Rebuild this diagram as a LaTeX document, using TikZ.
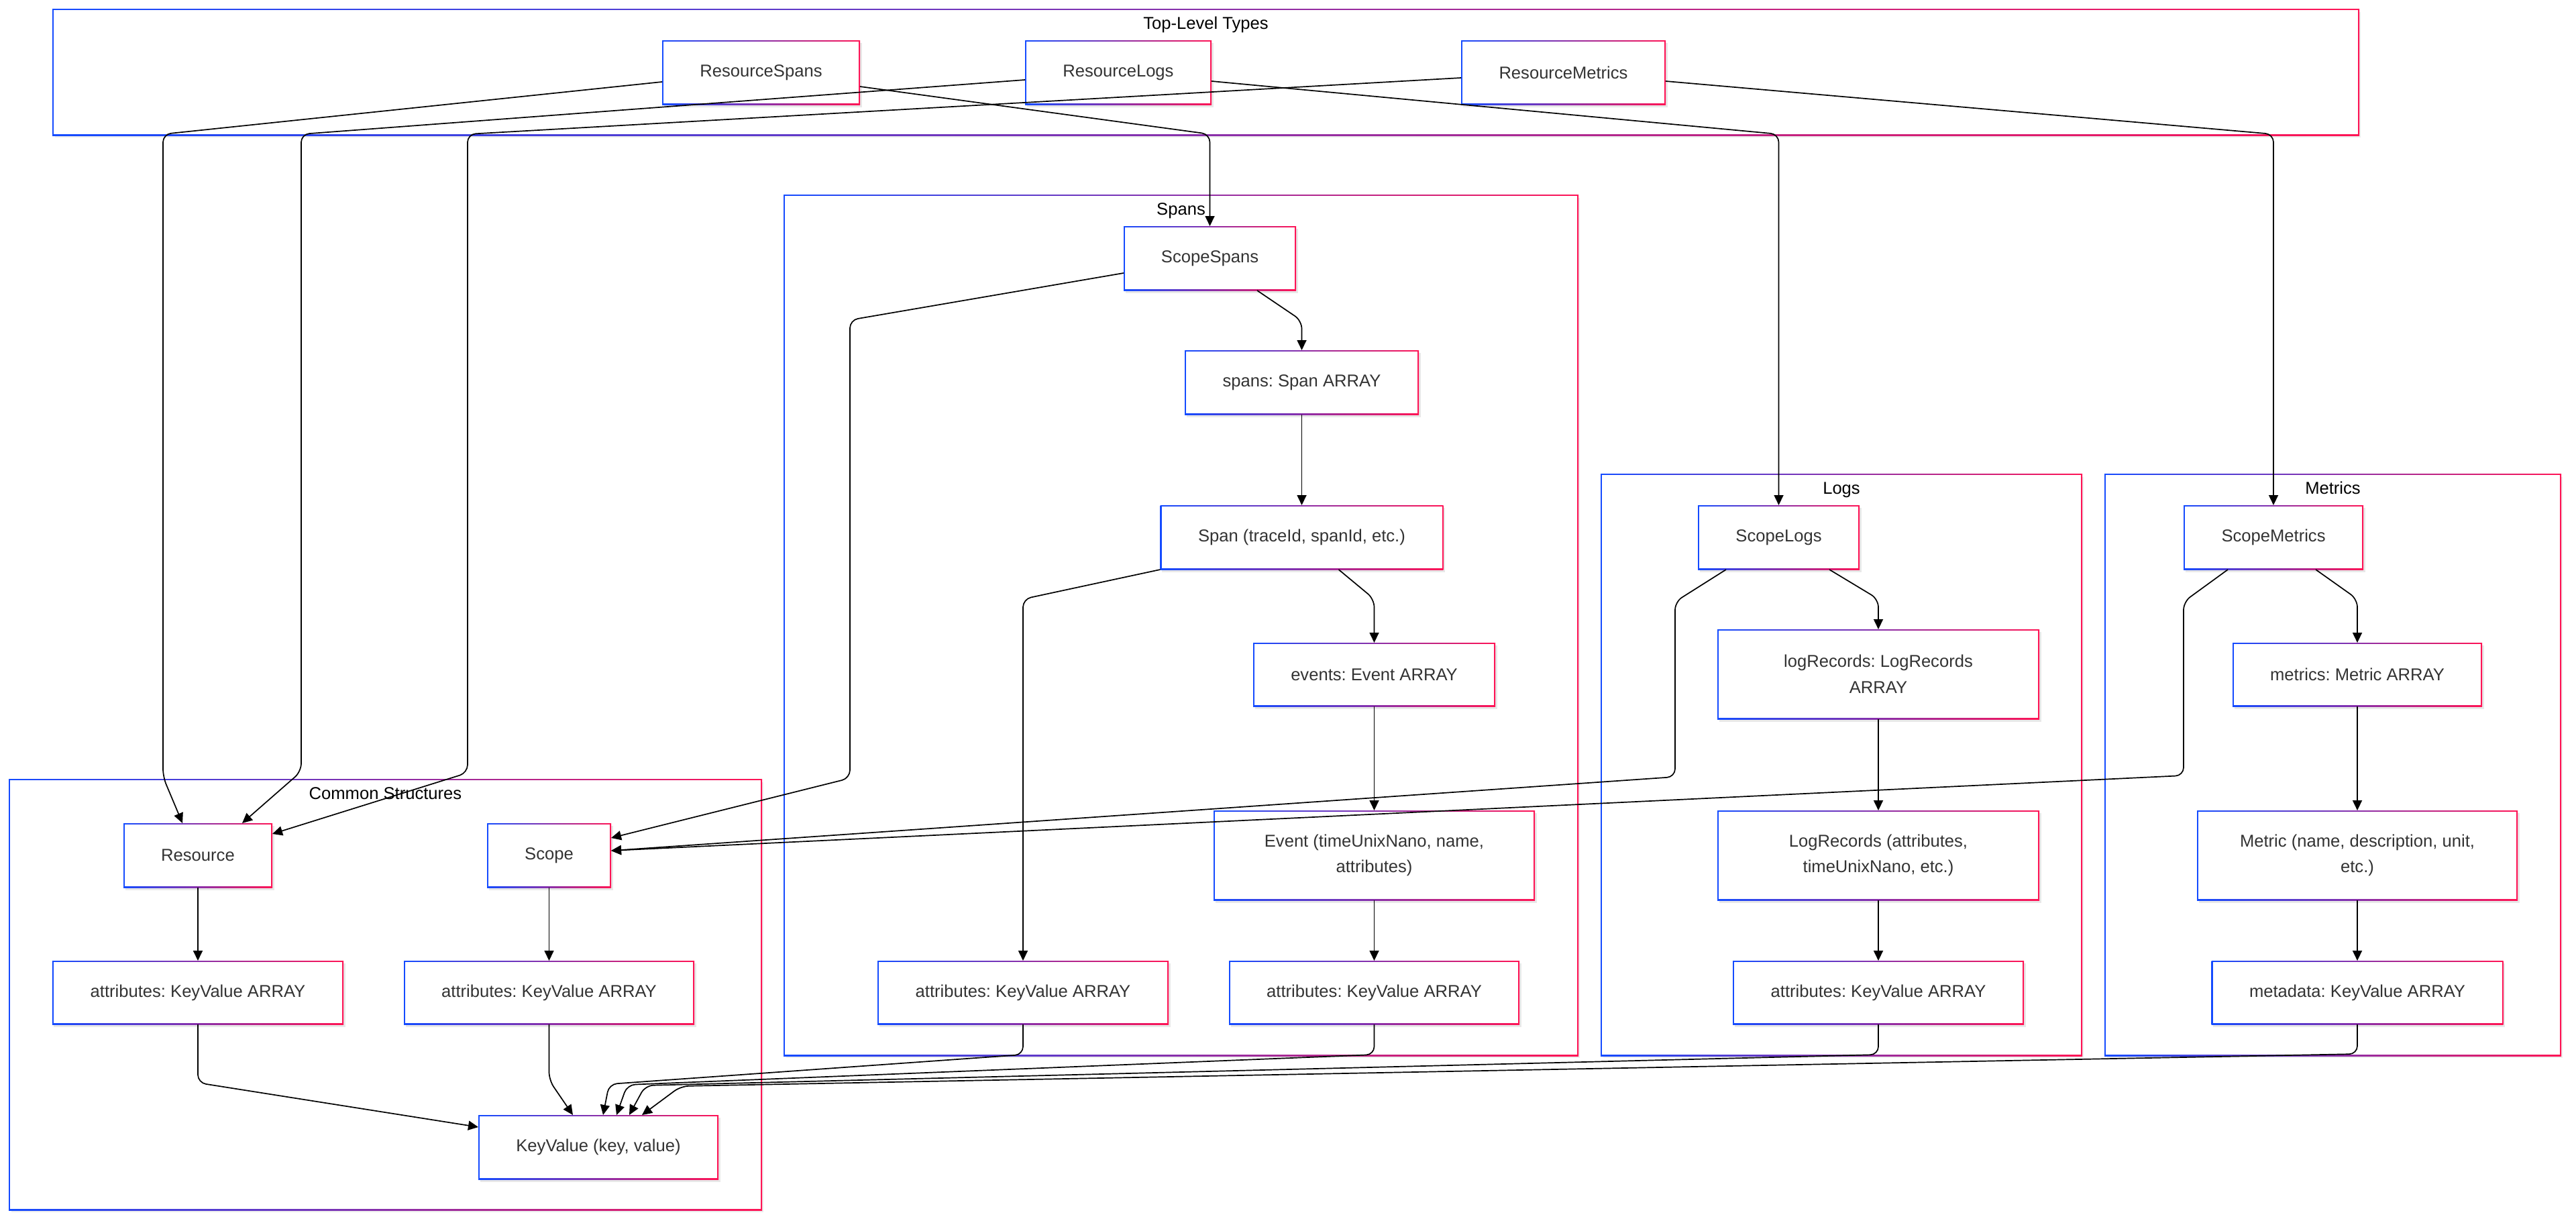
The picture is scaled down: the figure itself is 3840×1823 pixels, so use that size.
\documentclass[tikz,border=0pt]{standalone}
\usepackage{fontspec}
\newfontfamily\boxfont{Liberation Sans}
\usetikzlibrary{arrows.meta,shadows}
\definecolor{gblue}{RGB}{20,75,255}
\definecolor{gred}{RGB}{255,20,85}
\definecolor{txtgray}{RGB}{51,51,51}
\frenchspacing
\newcommand{\gclust}[4]{%
  \fill[black,opacity=0.07] (#1+3,#2+4) rectangle (#3+3,#4+4);
  \shade[left color=gblue,right color=gred] (#1-1,#2-1) rectangle (#3+1,#4+1);
  \fill[white] (#1+1,#2+1) rectangle (#3-1,#4-1);
}
\tikzset{
  tbox/.style={rectangle, inner sep=0pt, outer sep=0pt, align=center,
    font={\boxfont\frenchspacing\fontsize{25.6bp}{38.6bp}\selectfont}, text=txtgray, fill=white,
    general shadow={fill=black, opacity=0.09, shadow xshift=2.5bp, shadow yshift=-3.5bp},
    path picture={
      \shade[left color=gblue,right color=gred] (path picture bounding box.south west) rectangle (path picture bounding box.north east);
      \fill[white] ([shift={(2bp,2bp)}]path picture bounding box.south west) rectangle ([shift={(-2bp,-2bp)}]path picture bounding box.north east);
    }},
  clabel/.style={anchor=base, inner sep=0pt, font={\boxfont\fontsize{25.6bp}{30bp}\selectfont}, text=black},
  conn/.style={draw=black, line width=1.7bp, rounded corners=12bp, -{Triangle[length=15bp,width=14bp]}},
}
\begin{document}
\begin{tikzpicture}[x=1bp,y=-1bp]
\useasboundingbox (0,0) rectangle (3840,1823);
\fill[white] (0,0) rectangle (3840,1823);
% clusters
\gclust{79}{14}{3516}{201}
\gclust{1169}{291}{2352}{1573}
\gclust{2387}{707}{3103}{1573}
\gclust{3138}{707}{3817}{1573}
\gclust{14}{1162}{1135}{1803}
\node[clabel] (ltop) at (1797.5,43) {Top-Level Types};
\node[clabel] (lspans) at (1760.5,320) {Spans};
\node[clabel] (llogs) at (2745,736) {Logs};
\node[clabel] (lmetrics) at (3477.5,736) {Metrics};
\node[clabel] (lcommon) at (574.5,1191) {Common Structures};
% top-level
\node[tbox, minimum width=295bp, minimum height=96bp] (rs) at (1134.5,108) {ResourceSpans};
\node[tbox, minimum width=278bp, minimum height=96bp] (rl) at (1667,108) {ResourceLogs};
\node[tbox, minimum width=305bp, minimum height=96bp] (rm) at (2330.5,108) {ResourceMetrics};
% spans
\node[tbox, minimum width=257bp, minimum height=96bp] (ss) at (1803.5,385) {ScopeSpans};
\node[tbox, minimum width=349bp, minimum height=96bp] (spans) at (1940.5,570) {spans: Span ARRAY};
\node[tbox, minimum width=422bp, minimum height=96bp] (span) at (1940.5,801) {Span (traceId, spanId, etc.)};
\node[tbox, minimum width=361bp, minimum height=95bp] (events) at (2048.5,1005.5) {events: Event ARRAY};
\node[tbox, minimum width=479bp, minimum height=134bp] (event) at (2048.5,1275) {Event (timeUnixNano, name,\\attributes)};
\node[tbox, minimum width=434bp, minimum height=95bp] (attrsp) at (1525,1479.5) {attributes: KeyValue ARRAY};
\node[tbox, minimum width=433bp, minimum height=95bp] (attrev) at (2048.5,1479.5) {attributes: KeyValue ARRAY};
% logs
\node[tbox, minimum width=241bp, minimum height=96bp] (sl) at (2651.5,801) {ScopeLogs};
\node[tbox, minimum width=480bp, minimum height=134bp] (lr) at (2800,1005) {logRecords: LogRecords\\ARRAY};
\node[tbox, minimum width=480bp, minimum height=134bp] (lrec) at (2800,1275) {LogRecords (attributes,\\timeUnixNano, etc.)};
\node[tbox, minimum width=434bp, minimum height=95bp] (attrlg) at (2800,1479.5) {attributes: KeyValue ARRAY};
% metrics
\node[tbox, minimum width=268bp, minimum height=96bp] (sm) at (3389,801) {ScopeMetrics};
\node[tbox, minimum width=372bp, minimum height=95bp] (metrics) at (3514,1005.5) {metrics: Metric ARRAY};
\node[tbox, minimum width=478bp, minimum height=134bp] (metric) at (3514,1275) {Metric (name, description, unit,\\etc.)};
\node[tbox, minimum width=435bp, minimum height=95bp] (metadata) at (3514,1479.5) {metadata: KeyValue ARRAY};
% common
\node[tbox, minimum width=222bp, minimum height=96bp] (res) at (295,1275) {Resource};
\node[tbox, minimum width=185bp, minimum height=96bp] (scope) at (818.5,1275) {Scope};
\node[tbox, minimum width=434bp, minimum height=95bp] (attrr) at (295,1479.5) {attributes: KeyValue ARRAY};
\node[tbox, minimum width=433bp, minimum height=95bp] (attrs) at (818.5,1479.5) {attributes: KeyValue ARRAY};
\node[tbox, minimum width=358bp, minimum height=96bp] (kv) at (892,1710) {KeyValue (key, value)};
% connectors
\draw[conn] ([yshift=-14bp]rs.west) -- (243,200) -- (243,1158) -- ([xshift=-23bp]res.north);
\draw[conn] ([yshift=-11bp]rl.west) -- (449,200) -- (449,1150) -- ([xshift=66bp]res.north);
\draw[conn] ([yshift=-8bp]rm.west) -- (697,200) -- (697,1152) -- ([yshift=32bp]res.east);
\draw[conn] ([yshift=-21bp]rs.east) -- (1803.5,200) -- (ss.north);
\draw[conn] ([yshift=-13bp]rl.east) -- (2651.5,200) -- (sl.north);
\draw[conn] ([yshift=-13bp]rm.east) -- (3389,200) -- (sm.north);
\draw[conn] ([yshift=-22bp]ss.west) -- (1267,477) -- (1267,1160) -- ([yshift=26bp]scope.east);
\draw[conn] ([xshift=-78.5bp]sl.south) -- (2497,897) -- (2497,1158) -- ([yshift=7bp]scope.east);
\draw[conn] ([xshift=-68bp]sm.south) -- (3255,897) -- (3255,1156) -- ([yshift=7bp]scope.east);
\draw[conn] ([xshift=70.5bp]ss.south) -- (1940.5,478) -- (spans.north);
\draw[conn] (spans.south) -- (span.north);
\draw[conn] (span.south west) -- (1525,893) -- (attrsp.north);
\draw[conn] ([xshift=55bp]span.south) -- (2048.5,893) -- (events.north);
\draw[conn] (events.south) -- (event.north);
\draw[conn] (event.south) -- (attrev.north);
\draw[conn] ([xshift=75.5bp]sl.south) -- (2800,893) -- (lr.north);
\draw[conn] (lr.south) -- (lrec.north);
\draw[conn] (lrec.south) -- (attrlg.north);
\draw[conn] ([xshift=63bp]sm.south) -- (3514,893) -- (metrics.north);
\draw[conn] (metrics.south) -- (metric.north);
\draw[conn] (metric.south) -- (metadata.north);
\draw[conn] (res.south) -- (attrr.north);
\draw[conn] (scope.south) -- (attrs.north);
\draw[conn] (attrr.south) -- (295,1614) -- ([yshift=30bp]kv.west);
\draw[conn] (attrs.south) -- (818.5,1610) -- ([xshift=-38bp]kv.north);
\draw[conn] (attrsp.south) -- (1525,1572) -- (908,1616) -- ([xshift=7bp]kv.north);
\draw[conn] (attrev.south) -- (2048.5,1572) -- (935,1617) -- ([xshift=27bp]kv.north);
\draw[conn] (attrlg.south) -- (2800,1572) -- (962,1618) -- ([xshift=46bp]kv.north);
\draw[conn] (metadata.south) -- (3514,1571) -- (1015,1619) -- ([xshift=65bp]kv.north);
\end{tikzpicture}
\end{document}
